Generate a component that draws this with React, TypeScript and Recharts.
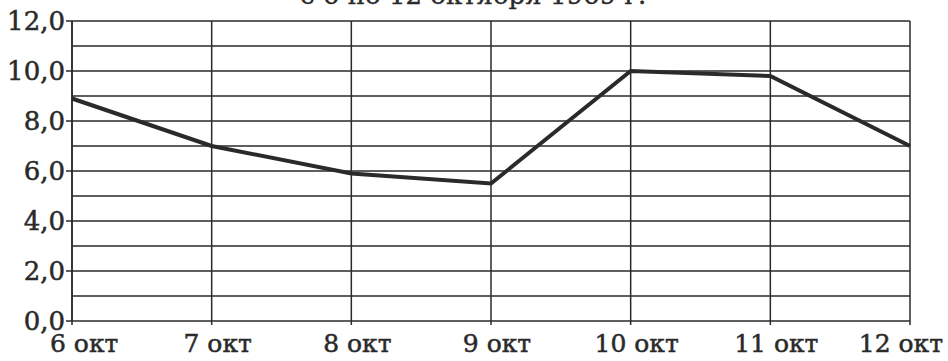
import { LineChart, Line, XAxis, YAxis, CartesianGrid, ReferenceLine } from "recharts";

const title = "с 6 по 12 октября 1969 г.";
const days = ["6 окт", "7 окт", "8 окт", "9 окт", "10 окт", "11 окт", "12 окт"];
const temperature = [8.9, 7.0, 5.9, 5.5, 10.0, 9.8, 7.0];
const yTicks = [0, 2, 4, 6, 8, 10, 12];
const gridValues = [1, 2, 3, 4, 5, 6, 7, 8, 9, 10, 11, 12];

const data = days.map((day, i) => ({ day, t: temperature[i] }));

const INK = "#2a2a2a";
const FONT = "'DejaVu Serif', 'Liberation Serif', serif";

function DayTick(props: any) {
  const { x, y, payload, index } = props;
  const last = index === days.length - 1;
  let anchor = "middle";
  let dx = 6;
  if (index === 0) {
    anchor = "start";
    dx = -22;
  } else if (last) {
    anchor = "end";
    dx = 33;
  }
  return (
    <text x={x} y={y} dx={dx} dy={25} textAnchor={anchor} fill={INK}
      stroke={INK} strokeWidth={0.5} fontFamily={FONT} fontSize={25}>
      {payload.value}
    </text>
  );
}

export default function App() {
  return (
    <div style={{ position: "absolute", left: 0, top: 0, width: 948, height: 361, background: "#fff", overflow: "hidden" }}>
      <div style={{
        position: "absolute", left: 300, top: -20, whiteSpace: "nowrap",
        fontFamily: FONT, fontSize: 26, color: INK, WebkitTextStroke: "0.4px #2a2a2a",
      }}>
        {title}
      </div>
      <LineChart width={948} height={361} data={data}
        margin={{ top: 21, right: 38, bottom: 0, left: 6 }}>
        <CartesianGrid stroke={INK} strokeWidth={1.5} horizontal={false} />
        {gridValues.map((v) => (
          <ReferenceLine key={v} y={v} stroke={INK} strokeWidth={1.5} />
        ))}
        <XAxis dataKey="day" height={40} stroke={INK} strokeWidth={1.5} tickSize={4}
          tickLine={{ stroke: INK }} tick={<DayTick />} interval={0} />
        <YAxis domain={[0, 12]} ticks={yTicks} width={66} stroke={INK} strokeWidth={1.5}
          tickSize={6} tickMargin={1} tickFormatter={(v: number) => v.toFixed(1).replace(".", ",")}
          tick={{ fill: INK, stroke: INK, strokeWidth: 0.5, fontFamily: FONT, fontSize: 26 }} />
        <Line type="linear" dataKey="t" stroke={INK} strokeWidth={4} dot={false} isAnimationActive={false} />
      </LineChart>
    </div>
  );
}
